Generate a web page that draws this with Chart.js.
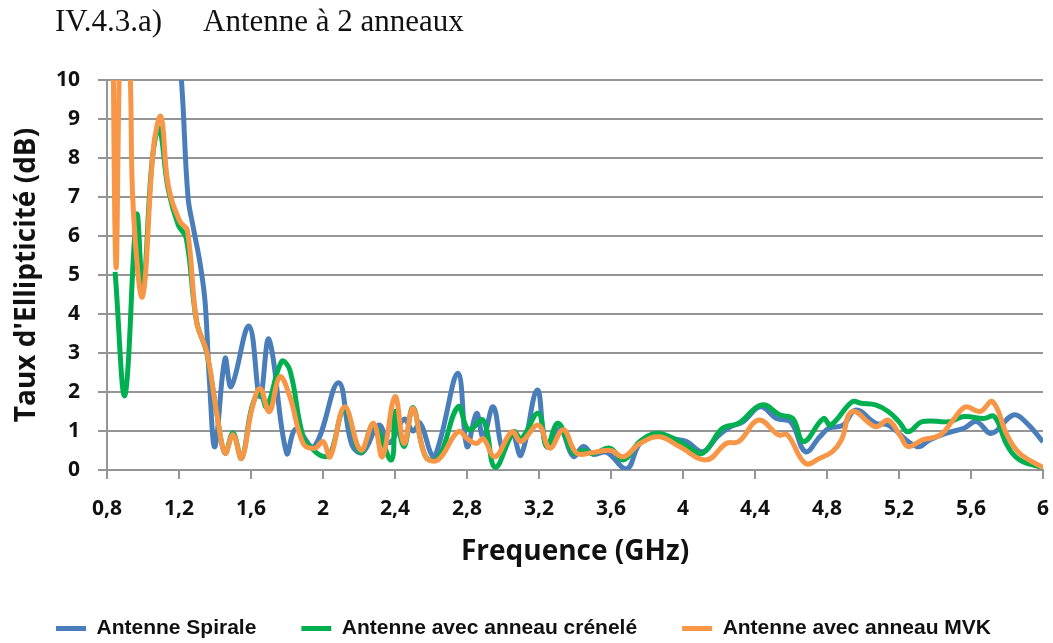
<!DOCTYPE html>
<html>
<head>
<meta charset="utf-8">
<script src="https://cdn.jsdelivr.net/npm/chart.js@4.4.1/dist/chart.umd.min.js"></script>
<style>
    body { margin: 0; background: #fff; }
    #wrap { position: relative; width: 1053px; height: 643px; }
    .heading { position: absolute; top: 5px; font-family: "Liberation Serif", "Times New Roman", serif; font-size: 31px; line-height: 31px; color: #111; white-space: nowrap; }
</style>
</head>
<body>
<div id="wrap">
    <span class="heading" style="left:55px">IV.4.3.a)</span>
    <span class="heading" style="left:203px">Antenne à 2 anneaux</span>
    <canvas id="ellipChart"></canvas>
</div>
<script>
// Tick labels
const xTickLabels = ['0,8', '1,2', '1,6', '2', '2,4', '2,8', '3,2', '3,6', '4', '4,4', '4,8', '5,2', '5,6', '6'];
const yTickLabels = ['0', '1', '2', '3', '4', '5', '6', '7', '8', '9', '10'];

// Series names
const seriesNames = ['Antenne Spirale', 'Antenne avec anneau crénelé', 'Antenne avec anneau MVK'];

// Antenne Spirale (GHz / dB)
const spiraleFreq = [0.85, 1.0, 1.12, 1.19, 1.215, 1.25, 1.28, 1.317, 1.345, 1.37, 1.4, 1.456, 1.49, 1.589, 1.65, 1.70, 1.798, 1.85, 1.95, 2.085, 2.16, 2.22, 2.31, 2.37, 2.45, 2.5, 2.54, 2.61, 2.65, 2.75, 2.8, 2.853, 2.89, 2.946, 3.0, 3.05, 3.1, 3.19, 3.243, 3.317, 3.39, 3.446, 3.5, 3.576, 3.687, 3.76, 3.854, 3.946, 4.02, 4.11, 4.19, 4.26, 4.335, 4.43, 4.52, 4.6, 4.68, 4.76, 4.81, 4.89, 4.96, 5.07, 5.14, 5.3, 5.37, 5.46, 5.56, 5.63, 5.715, 5.835, 5.91, 6.0];
const spiraleVal = [30, 19, 13.5, 11, 9.9, 7.0, 6.2, 5.3, 4.3, 2.2, 0.6, 2.86, 2.14, 3.69, 1.88, 3.35, 0.43, 1.05, 0.6, 2.24, 0.65, 0.45, 1.15, 0.7, 1.3, 1.0, 1.2, 0.35, 0.75, 2.48, 0.6, 1.45, 0.85, 1.62, 0.5, 0.95, 0.38, 2.05, 0.6, 1.05, 0.35, 0.6, 0.4, 0.45, 0.03, 0.68, 0.9, 0.8, 0.73, 0.47, 0.85, 1.1, 1.24, 1.62, 1.32, 1.22, 0.47, 0.85, 1.07, 1.15, 1.54, 1.2, 1.15, 0.6, 0.77, 0.94, 1.07, 1.24, 0.94, 1.41, 1.2, 0.72];

// Antenne avec anneau crénelé
const creneleFreq = [0.845, 0.9, 0.965, 1.0, 1.05, 1.09, 1.14, 1.196, 1.24, 1.298, 1.354, 1.41, 1.456, 1.5, 1.548, 1.604, 1.65, 1.687, 1.77, 1.816, 1.89, 1.95, 2.0, 2.04, 2.12, 2.21, 2.28, 2.38, 2.4, 2.45, 2.5, 2.57, 2.64, 2.75, 2.81, 2.89, 2.956, 3.06, 3.1, 3.196, 3.243, 3.306, 3.39, 3.45, 3.5, 3.594, 3.67, 3.76, 3.854, 3.95, 4.04, 4.11, 4.22, 4.31, 4.437, 4.54, 4.61, 4.67, 4.78, 4.82, 4.94, 4.99, 5.07, 5.14, 5.2, 5.25, 5.33, 5.48, 5.56, 5.67, 5.73, 5.8, 5.87, 6.0];
const creneleVal = [5.08, 1.92, 6.54, 4.6, 7.9, 8.76, 7.2, 6.28, 5.95, 3.8, 3.0, 1.45, 0.43, 0.95, 0.3, 1.6, 2.0, 1.62, 2.78, 2.56, 0.85, 0.5, 0.35, 0.4, 1.55, 0.45, 1.15, 0.26, 1.5, 0.6, 1.6, 0.34, 0.3, 1.62, 1.03, 1.28, 0.07, 0.98, 0.8, 1.45, 0.6, 1.2, 0.43, 0.5, 0.42, 0.56, 0.26, 0.73, 0.94, 0.8, 0.56, 0.43, 1.07, 1.2, 1.67, 1.41, 1.32, 0.73, 1.32, 1.15, 1.75, 1.71, 1.67, 1.5, 1.24, 0.98, 1.24, 1.24, 1.37, 1.32, 1.37, 0.64, 0.26, 0.06];

// Antenne avec anneau MVK
const mvkFreq = [0.83, 0.85, 0.875, 0.905, 0.93, 0.946, 0.998, 1.058, 1.1, 1.14, 1.205, 1.246, 1.298, 1.354, 1.41, 1.456, 1.5, 1.548, 1.604, 1.65, 1.702, 1.76, 1.816, 1.89, 1.955, 2.0, 2.04, 2.12, 2.21, 2.28, 2.33, 2.4, 2.45, 2.5, 2.57, 2.64, 2.75, 2.81, 2.853, 2.89, 2.956, 3.05, 3.1, 3.196, 3.26, 3.335, 3.41, 3.5, 3.6, 3.67, 3.76, 3.87, 3.98, 4.13, 4.24, 4.31, 4.42, 4.53, 4.58, 4.68, 4.76, 4.83, 4.88, 4.94, 5.07, 5.14, 5.21, 5.25, 5.33, 5.43, 5.5, 5.57, 5.65, 5.72, 5.8, 5.87, 6.0];
const mvkVal = [13, 5.2, 11.5, 13, 10, 6.7, 4.45, 8.25, 9.06, 7.3, 6.37, 6.15, 3.8, 3.03, 1.45, 0.43, 0.9, 0.3, 1.54, 2.09, 1.5, 2.39, 1.88, 0.68, 0.56, 0.73, 0.34, 1.62, 0.51, 1.2, 0.34, 1.88, 0.68, 1.58, 0.34, 0.26, 0.98, 0.77, 0.68, 0.8, 0.34, 0.98, 0.73, 1.15, 0.56, 1.03, 0.43, 0.45, 0.5, 0.34, 0.68, 0.85, 0.6, 0.26, 0.68, 0.73, 1.28, 0.9, 0.9, 0.17, 0.3, 0.47, 0.77, 1.5, 1.11, 1.28, 0.85, 0.6, 0.77, 0.9, 1.28, 1.62, 1.5, 1.75, 0.9, 0.43, 0.06];

function toPoints(freq, val) {
    return freq.map((f, i) => ({ x: f, y: val[i] }));
}

const gridGray = '#959595';
const tickFont = { family: "'Open Sans', sans-serif", size: 21, weight: 'bold' };
const titleFont = { family: "'Open Sans', sans-serif", size: 28, weight: 'bold' };

function lineDataset(label, points, color, order) {
    return {
        label: label,
        data: points,
        borderColor: color,
        backgroundColor: color,
        borderWidth: 5,
        pointRadius: 0,
        pointHoverRadius: 0,
        tension: 0.4,
        fill: false,
        order: order
    };
}

document.addEventListener('DOMContentLoaded', function() {
    const ctx = document.getElementById('ellipChart');

    new Chart(ctx.getContext('2d'), {
        type: 'line',
        data: {
            datasets: [
                lineDataset(seriesNames[0], toPoints(spiraleFreq, spiraleVal), '#4a7ebb', 3),
                lineDataset(seriesNames[1], toPoints(creneleFreq, creneleVal), '#00b050', 2),
                lineDataset(seriesNames[2], toPoints(mvkFreq, mvkVal), '#f79646', 1)
            ]
        },
        options: {
            responsive: true,
            maintainAspectRatio: false,
            animation: false,
            layout: {
                padding: { top: 80, left: 4, right: 10, bottom: 0 }
            },
            plugins: {
                legend: {
                    position: 'bottom',
                    maxHeight: 70,
                    labels: {
                        usePointStyle: true,
                        pointStyle: 'line',
                        pointStyleWidth: 30,
                        padding: 45,
                        color: '#111',
                        font: { family: "'Liberation Sans', sans-serif", size: 21, weight: 'bold' },
                        // keep the series order, not the drawing order
                        sort: function(a, b) { return a.datasetIndex - b.datasetIndex; }
                    }
                },
                tooltip: { enabled: false }
            },
            scales: {
                x: {
                    type: 'linear',
                    min: 0.8,
                    max: 6,
                    afterFit: function(scale) {
                        scale.height = 103;
                        // the "6" label only needs half its width on the right
                        scale.paddingRight = 8;
                    },
                    grid: {
                        drawOnChartArea: false,
                        drawTicks: true,
                        tickLength: 9,
                        color: gridGray,
                        lineWidth: 2
                    },
                    border: { color: gridGray, width: 2 },
                    ticks: {
                        stepSize: 0.4,
                        padding: 17,
                        maxRotation: 0,
                        autoSkip: false,
                        color: '#111',
                        font: tickFont,
                        callback: function(value) {
                            return xTickLabels[Math.round((value - 0.8) / 0.4)];
                        }
                    },
                    title: {
                        display: true,
                        text: 'Frequence (GHz)',
                        color: '#111',
                        font: titleFont,
                        padding: { top: 0, bottom: 4 }
                    }
                },
                y: {
                    min: 0,
                    max: 10,
                    afterFit: function(scale) { scale.width = 103; },
                    grid: {
                        color: gridGray,
                        lineWidth: 2,
                        tickLength: 9
                    },
                    border: { color: gridGray, width: 2 },
                    ticks: {
                        stepSize: 1,
                        padding: 18,
                        color: '#111',
                        font: tickFont,
                        callback: function(value) {
                            return yTickLabels[Math.round(value)];
                        }
                    },
                    title: {
                        display: true,
                        text: "Taux d'Ellipticité (dB)",
                        color: '#111',
                        font: titleFont,
                        padding: { top: 6, bottom: 0 }
                    }
                }
            }
        }
    });
});
</script>
</body>
</html>
